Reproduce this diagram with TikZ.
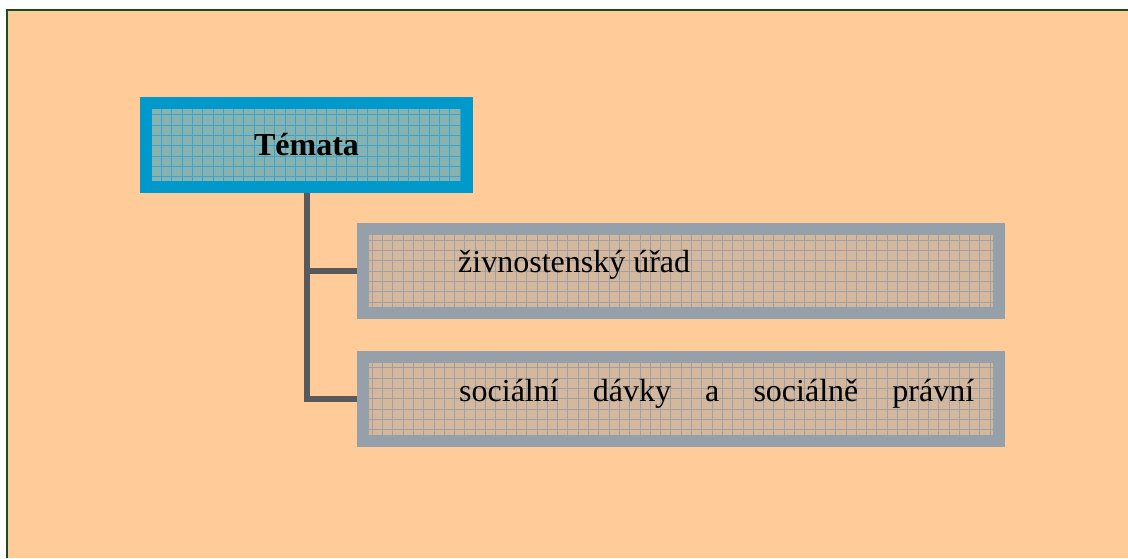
\documentclass[tikz,border=0pt]{standalone}
\usepackage{fontspec}
\setmainfont{Liberation Serif}
\definecolor{peach}{HTML}{FFCC99}
\definecolor{framegreen}{HTML}{1E4B1E}
\definecolor{temablue}{HTML}{0099CC}
\definecolor{temafill}{HTML}{86B2B0}
\definecolor{temagrid}{HTML}{3CA4CC}
\definecolor{itemgray}{HTML}{96A0AA}
\definecolor{itemfill}{HTML}{D4B89E}
\definecolor{itemgrid}{HTML}{A09FA4}
\definecolor{linkgray}{HTML}{58595B}
\begin{document}
\begin{tikzpicture}[x=1pt,y=-1pt, font=\fontsize{32}{38}\selectfont, line join=miter]
		\tikzset{gridfill/.style={path picture={\draw[#1,line width=0.6pt,step=10.3pt] (path picture bounding box.south west) grid (path picture bounding box.north east);}},
			headbox/.style={draw=temablue, line width=12pt, fill=temafill, gridfill=temagrid, minimum width=321pt, minimum height=84pt, inner sep=0pt, font=\fontsize{32}{38}\selectfont\bfseries},
			itembox/.style={draw=itemgray, line width=12pt, fill=itemfill, gridfill=itemgrid, minimum width=636pt, minimum height=84pt},
			link/.style={draw=linkgray, line width=6pt}}
		\def \W{1128}\def \H{558}
		\useasboundingbox (0,0) rectangle (\W,\H);
		% page frame
		\fill[white] (0,0) rectangle (\W,\H);
		\fill[peach] (7,10) rectangle (\W,\H);
		\draw[framegreen, line width=2.5pt] (7,\H)--(7,10)--(\W,10);
		% boxes
		\node[headbox] (tema) at (306.5,145) {Témata};
		\node[itembox] (ziv) at (681,271) {};
		\node[itembox] (soc) at (681,398.5) {};
		\node[anchor=base west, inner sep=0pt] (zivtext) at (458,272) {živnostenský úřad};
		\node[anchor=base west, inner sep=0pt] (soctext) at (459,401) {\makebox[515pt][s]{sociální dávky a sociálně právní}};
		% connectors
		\draw[link] (tema.south) |- (soc.west);
		\draw[link] (tema.south |- ziv.west) -- (ziv.west);
\end{tikzpicture}
\end{document}
